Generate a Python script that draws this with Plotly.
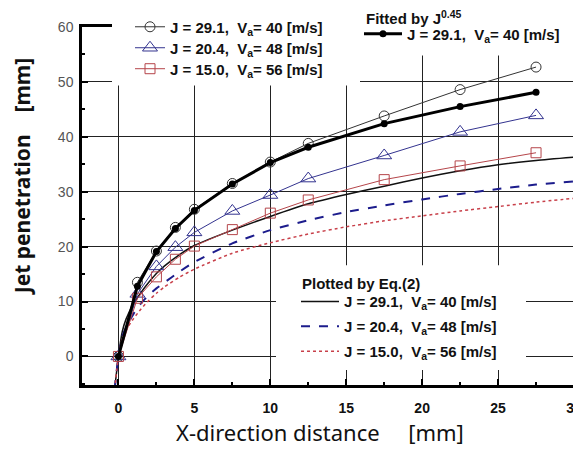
import plotly.graph_objects as go

# measured data points
x_meas = [0, 1.25, 2.5, 3.75, 5, 7.5, 10, 12.5, 17.5, 22.5, 27.5]
y_j291 = [0, 13.5, 19.2, 23.5, 26.8, 31.5, 35.4, 38.8, 43.8, 48.6, 52.7]
y_j204 = [0, 11.4, 16.4, 19.9, 22.6, 26.5, 29.4, 32.4, 36.6, 40.9, 43.9]
y_j150 = [0, 10.6, 14.5, 17.7, 20.1, 23.1, 26.1, 28.5, 32.2, 34.7, 37.1]
y_fit = [0, 12.8, 19.1, 23.3, 26.6, 31.4, 35.3, 38.1, 42.4, 45.5, 48.1]

# Eq.(2) curves
x_eq = [-0.25, 0, 0.25, 0.5, 1, 1.5, 2, 2.5, 3, 4, 5, 7.5, 10, 12.5, 15, 17.5, 20, 22.5, 25, 27.5, 30]
eq_j291 = [-6, 0, 4.5, 6.8, 9.6, 11.7, 13.5, 15.1, 16.4, 18.5, 20.2, 23.0, 25.5, 27.8, 29.5, 31.0, 32.5, 33.8, 34.9, 35.7, 36.3]
eq_j204 = [-6, 0, 3.6, 5.3, 7.8, 9.7, 11.2, 12.4, 13.4, 15.4, 17.2, 20.6, 23.0, 24.8, 26.3, 27.5, 28.6, 29.6, 30.5, 31.3, 31.9]
eq_j150 = [-6, 0, 3.2, 4.8, 6.9, 8.7, 10.2, 11.5, 12.6, 14.4, 15.9, 18.8, 20.7, 22.3, 23.6, 24.7, 25.6, 26.5, 27.3, 28.1, 28.8]

labels = ["J = 29.1,\u00a0\u00a0V<sub>a</sub>= 40 [m/s]",
          "J = 20.4,\u00a0\u00a0V<sub>a</sub>= 48 [m/s]",
          "J = 15.0,\u00a0\u00a0V<sub>a</sub>= 56 [m/s]"]

NAVY = "#33338f"
BRICK = "#b5454a"

fig = go.Figure()

# Eq.(2) lines (one legend box per row for exact row spacing)
fig.add_trace(go.Scatter(x=x_eq, y=eq_j291, mode="lines", name=labels[0], legend="legend3", showlegend=True,
                         line=dict(color="#111111", width=1.5, shape="spline", smoothing=0.6)))
fig.add_trace(go.Scatter(x=x_eq, y=eq_j204, mode="lines", name=labels[1], legend="legend6", showlegend=True,
                         line=dict(color="#1c1c8c", width=2, dash="dash", shape="spline", smoothing=0.6)))
fig.add_trace(go.Scatter(x=x_eq, y=eq_j150, mode="lines", name=labels[2], legend="legend7", showlegend=True,
                         line=dict(color="#c8404a", width=1.5, dash="dot", shape="spline", smoothing=0.6)))

# measured
fig.add_trace(go.Scatter(x=x_meas, y=y_j291, mode="lines+markers", name=labels[0], legend="legend", showlegend=True,
                         line=dict(color="#333333", width=1),
                         marker=dict(symbol="circle-open", size=10, color="#333333", line=dict(width=1))))
fig.add_trace(go.Scatter(x=x_meas, y=y_j204, mode="lines+markers", name=labels[1], legend="legend4", showlegend=True,
                         line=dict(color=NAVY, width=1),
                         marker=dict(symbol="triangle-up-open", size=13, color=NAVY, line=dict(width=1))))
fig.add_trace(go.Scatter(x=x_meas, y=y_j150, mode="lines+markers", name=labels[2], legend="legend5", showlegend=True,
                         line=dict(color=BRICK, width=1),
                         marker=dict(symbol="square-open", size=10, color=BRICK, line=dict(width=1))))
# fitted
fig.add_trace(go.Scatter(x=x_meas, y=y_fit, mode="lines+markers", name=labels[0], legend="legend2", showlegend=True,
                         line=dict(color="#000000", width=3),
                         marker=dict(symbol="circle", size=7, color="#000000")))

# the page body has an 8px margin: figure is 8px smaller, coordinates below are window pixels
OFF = 8
WIN_W, WIN_H = 581, 458
W, H = WIN_W - OFF, WIN_H - OFF
L, R, T, B = 82, 574, 26.5, 385          # plot area in window pixels
pw, ph = R - L, B - T


def px(xp):
    return (xp - L) / pw


def py(yp):
    return (B - yp) / ph


masks = [(112, 360, 0, 85), (360, 590, 0, 55), (276, 526, 265, 370)]
shapes = []
for x0, x1, y0, y1 in masks:
    shapes.append(dict(type="rect", xref="paper", yref="paper", x0=px(x0), x1=px(x1),
                       y0=py(y1), y1=py(y0), fillcolor="white", line=dict(width=0), layer="above"))

legfont = dict(family="Liberation Sans, Arial, sans-serif", size=15, color="#111111", weight="bold")


def leg(xw, yw, iw):
    return dict(x=px(xw), y=py(yw), xanchor="left", yanchor="top", bgcolor="rgba(0,0,0,0)",
                font=legfont, itemwidth=iw, visible=True)


fig.update_layout(
    width=W, height=H,
    showlegend=True,
    margin=dict(l=L - OFF, r=W - (R - OFF), t=T - OFF, b=H - (B - OFF), autoexpand=False),
    paper_bgcolor="white", plot_bgcolor="white",
    shapes=shapes,
    legend=leg(130, 10, 30),
    legend4=leg(130, 31, 30),
    legend5=leg(130, 52, 30),
    legend2=leg(359, 17, 38),
    legend3=leg(296, 285, 38),
    legend6=leg(296, 310, 38),
    legend7=leg(296, 335, 38),
    annotations=[
        dict(text="Fitted by J<sup>0.45</sup>", xref="paper", yref="paper", x=px(364), y=py(17),
             xanchor="left", yanchor="middle", showarrow=False, font=legfont),
        dict(text="Plotted by Eq.(2)", xref="paper", yref="paper", x=px(300), y=py(283),
             xanchor="left", yanchor="middle", showarrow=False, font=legfont),
        dict(text="<b>Jet penetration\u00a0\u00a0\u00a0\u00a0[mm]</b>", textangle=-90, xref="paper", yref="paper",
             x=px(22), y=py(176), xanchor="center", yanchor="middle", showarrow=False,
             font=dict(family="Noto Sans, sans-serif", size=21, color="#111111")),
        dict(text="X-direction distance\u00a0\u00a0\u00a0\u00a0\u00a0[mm]", xref="paper", yref="paper",
             x=px(320), y=py(432), xanchor="center", yanchor="middle", showarrow=False,
             font=dict(family="Noto Sans, sans-serif", size=22, color="#111111")),
    ],
)

fig.update_xaxes(range=[-2.4, 30], dtick=5, tick0=0, showgrid=True, gridcolor="#222222", gridwidth=1,
                 zeroline=False, showline=True, linecolor="black", linewidth=2.5, mirror=True,
                 ticks="inside", ticklen=6, tickwidth=2, tickcolor="black", ticklabelstandoff=8,
                 ticklabeloverflow="allow",
                 minor=dict(ticks="inside", ticklen=3, dtick=2.5, tick0=0, tickcolor="black", tickwidth=1.5, showgrid=False),
                 tickfont=dict(family="Liberation Sans, Arial, sans-serif", size=14, color="#111111", weight="bold"))
fig.update_yaxes(range=[-5.2, 60], dtick=10, tick0=0, showgrid=True, gridcolor="#222222", gridwidth=1,
                 zeroline=False, showline=True, linecolor="black", linewidth=2.5, mirror=True,
                 ticks="inside", ticklen=6, tickwidth=2, tickcolor="black", ticklabelstandoff=3,
                 minor=dict(ticks="inside", ticklen=3, dtick=5, tick0=0, tickcolor="black", tickwidth=1.5, showgrid=False),
                 tickfont=dict(family="Liberation Sans, Arial, sans-serif", size=14, color="#555555"))

fig.write_html("out.html")
